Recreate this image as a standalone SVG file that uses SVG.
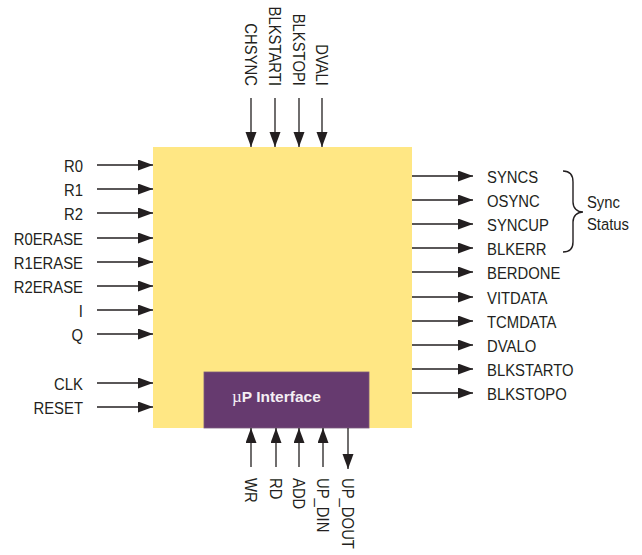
<svg xmlns="http://www.w3.org/2000/svg" width="642" height="555" viewBox="0 0 642 555">
<style>
.lbl{font-family:"Liberation Sans",Arial,sans-serif;font-size:16.5px;fill:#231F20}
.end{text-anchor:end}
.wire{stroke:#231F20;stroke-width:1.3;fill:none;marker-end:url(#ah)}
.brace{stroke:#231F20;stroke-width:1.4;fill:none}
</style>
<defs>
<marker id="ah" markerUnits="userSpaceOnUse" markerWidth="16" markerHeight="12" refX="15" refY="5.5" orient="auto">
<path d="M0,0 L15,5.5 L0,11 z" fill="#231F20"/>
</marker>
</defs>
<rect width="642" height="555" fill="#FFFFFF"/>
<g id="core">
<rect x="153" y="147" width="259" height="281" fill="#FFE784"/>
</g>
<g id="up-interface">
<rect x="204" y="372" width="165" height="56" fill="#663A6F" stroke="#7A5A7E" stroke-width="0.8"/>
<text x="232" y="402" style="font-family:'Liberation Sans',Arial,sans-serif;font-size:15.5px;font-weight:bold;fill:#F4EEF4"><tspan style="font-family:'Liberation Serif',serif;font-weight:normal;font-size:17px">µ</tspan>P Interface</text>
</g>
<g id="connectors">
<line class="wire" x1="97" y1="165" x2="153" y2="165"/>
<line class="wire" x1="97" y1="189" x2="153" y2="189"/>
<line class="wire" x1="97" y1="213" x2="153" y2="213"/>
<line class="wire" x1="97" y1="238" x2="153" y2="238"/>
<line class="wire" x1="97" y1="262" x2="153" y2="262"/>
<line class="wire" x1="97" y1="286" x2="153" y2="286"/>
<line class="wire" x1="97" y1="310" x2="153" y2="310"/>
<line class="wire" x1="97" y1="334" x2="153" y2="334"/>
<line class="wire" x1="97" y1="383" x2="153" y2="383"/>
<line class="wire" x1="97" y1="407" x2="153" y2="407"/>
<line class="wire" x1="412" y1="176" x2="473" y2="176"/>
<line class="wire" x1="412" y1="200" x2="473" y2="200"/>
<line class="wire" x1="412" y1="224" x2="473" y2="224"/>
<line class="wire" x1="412" y1="248" x2="473" y2="248"/>
<line class="wire" x1="412" y1="272" x2="473" y2="272"/>
<line class="wire" x1="412" y1="297" x2="473" y2="297"/>
<line class="wire" x1="412" y1="321" x2="473" y2="321"/>
<line class="wire" x1="412" y1="345" x2="473" y2="345"/>
<line class="wire" x1="412" y1="369" x2="473" y2="369"/>
<line class="wire" x1="412" y1="393" x2="473" y2="393"/>
<line class="wire" x1="251" y1="98" x2="251" y2="147"/>
<line class="wire" x1="275" y1="98" x2="275" y2="147"/>
<line class="wire" x1="299" y1="98" x2="299" y2="147"/>
<line class="wire" x1="322" y1="98" x2="322" y2="147"/>
<line class="wire" x1="251" y1="467" x2="251" y2="428"/>
<line class="wire" x1="276" y1="467" x2="276" y2="428"/>
<line class="wire" x1="299" y1="467" x2="299" y2="428"/>
<line class="wire" x1="323" y1="467" x2="323" y2="428"/>
<line class="wire" x1="348" y1="428" x2="348" y2="469"/>
</g>
<g id="left-labels" transform="scale(0.9,1)">
<text class="lbl end" x="92.2" y="172">R0</text>
<text class="lbl end" x="92.2" y="196">R1</text>
<text class="lbl end" x="92.2" y="220">R2</text>
<text class="lbl end" x="92.2" y="245">R0ERASE</text>
<text class="lbl end" x="92.2" y="269">R1ERASE</text>
<text class="lbl end" x="92.2" y="293">R2ERASE</text>
<text class="lbl end" x="92.2" y="317">I</text>
<text class="lbl end" x="92.2" y="341">Q</text>
<text class="lbl end" x="92.2" y="390">CLK</text>
<text class="lbl end" x="92.2" y="414">RESET</text>
</g>
<g id="right-labels" transform="scale(0.9,1)">
<text class="lbl" x="541.1" y="183">SYNCS</text>
<text class="lbl" x="541.1" y="207">OSYNC</text>
<text class="lbl" x="541.1" y="231">SYNCUP</text>
<text class="lbl" x="541.1" y="255">BLKERR</text>
<text class="lbl" x="541.1" y="279">BERDONE</text>
<text class="lbl" x="541.1" y="304">VITDATA</text>
<text class="lbl" x="541.1" y="328">TCMDATA</text>
<text class="lbl" x="541.1" y="352">DVALO</text>
<text class="lbl" x="541.1" y="376">BLKSTARTO</text>
<text class="lbl" x="541.1" y="400">BLKSTOPO</text>
</g>
<g id="sync-status">
<path class="brace" d="M563,171 C570,171 573,175 573,182 L573,202 C573,208 577,212 583,212 C577,212 573,216 573,222 L573,242 C573,249 570,252 563,252"/>
<g transform="scale(0.9,1)">
<text class="lbl" x="652.2" y="208">Sync</text>
<text class="lbl" x="652.2" y="230">Status</text>
</g>
</g>
<g id="top-labels">
<text class="lbl end" transform="translate(245,86) rotate(90) scale(0.9,1)">CHSYNC</text>
<text class="lbl end" transform="translate(269,86) rotate(90) scale(0.9,1)">BLKSTARTI</text>
<text class="lbl end" transform="translate(293,86) rotate(90) scale(0.9,1)">BLKSTOPI</text>
<text class="lbl end" transform="translate(316,86) rotate(90) scale(0.9,1)">DVALI</text>
</g>
<g id="bottom-labels">
<text class="lbl" transform="translate(245,478) rotate(90) scale(0.9,1)">WR</text>
<text class="lbl" transform="translate(270,478) rotate(90) scale(0.9,1)">RD</text>
<text class="lbl" transform="translate(293,478) rotate(90) scale(0.9,1)">ADD</text>
<text class="lbl" transform="translate(317,478) rotate(90) scale(0.9,1)">UP_DIN</text>
<text class="lbl" transform="translate(342,478) rotate(90) scale(0.9,1)">UP_DOUT</text>
</g>
</svg>
